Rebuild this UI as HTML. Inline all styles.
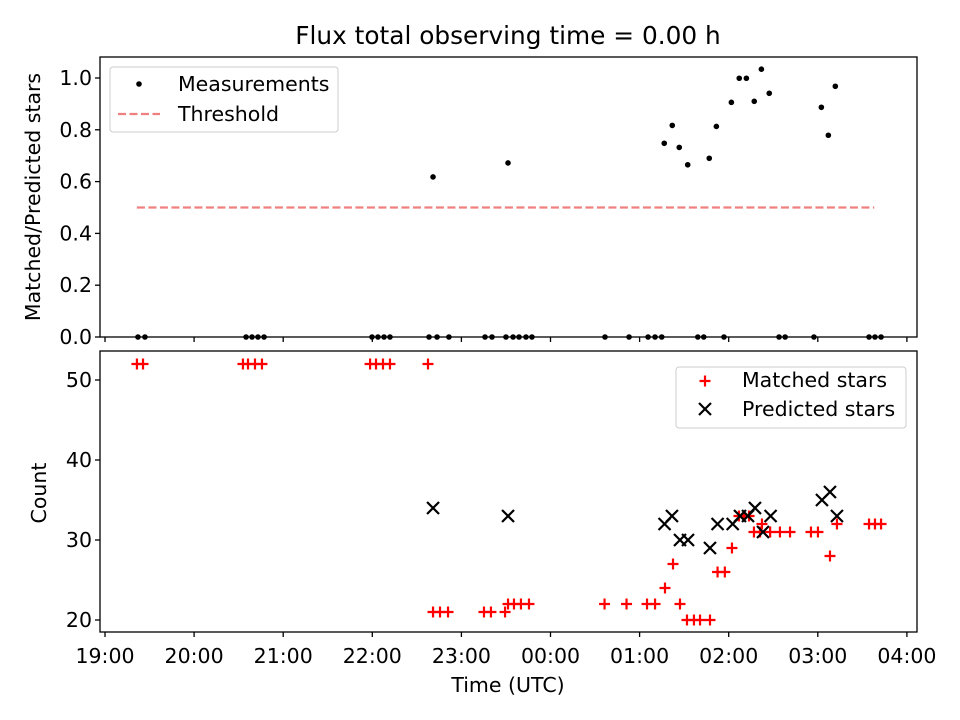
<!DOCTYPE html>
<html><head><meta charset="utf-8"><style>body{margin:0;background:#fff}svg{display:block;font-family:"DejaVu Sans","Liberation Sans",sans-serif}</style></head>
<body>
<svg id="chart" width="960" height="720"></svg>
<script>
// times are minutes since 19:00 UTC
const ratioTimes=[22.2,26.9,95,99,103,107.1,179.8,183.8,187.9,191.9,218.2,223.6,231.6,255.9,260.6,270,274.8,278.8,283.5,287.5,336.7,352.9,365.7,370.4,374.9,399.2,403.2,416.8,453.9,458,477.4,514.5,518.5,522.6,
 220.9,271.4,376.6,382.0,386.7,392.4,406.9,411.7,421.8,427.1,431.9,437.2,442.0,447.3,482.4,487.1,491.8];
const ratioValues=[0,0,0,0,0,0,0,0,0,0,0,0,0,0,0,0,0,0,0,0,0,0,0,0,0,0,0,0,0,0,0,0,0,0,
 0.618,0.672,0.748,0.817,0.732,0.665,0.69,0.813,0.906,0.999,0.999,0.91,1.034,0.941,0.887,0.779,0.968];
const thresholdValue=0.5;
const thresholdRange=[21.5,518];
const matchedTimes=[21.5,25.6,92.9,96.3,101,105.7,178.5,182.5,187.2,191.9,217.5,220.9,225.6,231,255.2,259.9,269.4,271.4,275.4,280.1,285.5,
 336.4,351.2,365,370.4,377.1,382.5,387.2,391.9,396.6,400.7,407.4,412.5,417.4,422.2,426.9,430.3,433.7,442.4,437,441.1,447.9,454.5,461.3,475.4,480.1,488.2,492.9,514.5,518.5,522.6];
const matchedValues=[52,52,52,52,52,52,52,52,52,52,52,21,21,21,21,21,21,22,22,22,22,
 22,22,22,22,24,27,22,20,20,20,20,26,26,29,33,33,33,32,31,31,31,31,31,31,31,28,32,32,32,32];
const predictedTimes=[220.9,271.4,376.8,381.8,387.2,392.6,407.4,412.5,422.7,427.6,433,437.7,443.1,448.2,482.8,488.2,492.9];
const predictedValues=[34,33,32,33,30,30,29,32,32,33,33,34,31,33,35,36,33];
const xTickLabels=["19:00","20:00","21:00","22:00","23:00","00:00","01:00","02:00","03:00","04:00"];
const topTicks=[0,0.2,0.4,0.6,0.8,1.0];
const bottomTicks=[20,30,40,50];

const NS="http://www.w3.org/2000/svg";
const svg=document.getElementById('chart');
function mk(tag,attrs,parent,text){const e=document.createElementNS(NS,tag);for(const k in attrs)e.setAttribute(k,attrs[k]);if(text!==undefined)e.textContent=text;(parent||svg).appendChild(e);return e;}
const L=100,R=917;
const FS='20.5';
const xS=m=>105+m*(89.1/60);
const yTop=v=>337-v*259;
const yBot=v=>620-(v-20)*8;

let t=mk('text',{x:508,y:44,'text-anchor':'middle','font-size':'24.8'},svg,'Flux total observing time = 0.00 h');



let th=mk('line',{x1:xS(thresholdRange[0]),x2:xS(thresholdRange[1]),y1:yTop(thresholdValue),y2:yTop(thresholdValue),stroke:'#f08080','stroke-width':2.2,'stroke-dasharray':'8,3.5'});



ratioTimes.forEach((m,i)=>{const c=mk('circle',{cx:xS(m),cy:yTop(ratioValues[i]),r:2.8,fill:'#000'});

});

matchedTimes.forEach((m,i)=>{const x=xS(m),y=yBot(matchedValues[i]);const g=mk('path',{d:`M${x-5.5},${y}H${x+5.5}M${x},${y-5.5}V${y+5.5}`,stroke:'#f00','stroke-width':2.2});

});
predictedTimes.forEach((m,i)=>{const x=xS(m),y=yBot(predictedValues[i]);const g=mk('path',{d:`M${x-6},${y-6}L${x+6},${y+6}M${x-6},${y+6}L${x+6},${y-6}`,stroke:'#000','stroke-width':2.2});

});

let f1=mk('rect',{x:L,y:57,width:R-L,height:280,fill:'none',stroke:'#000','stroke-width':1.3});


let f2=mk('rect',{x:L,y:351,width:R-L,height:281,fill:'none',stroke:'#000','stroke-width':1.3});



xTickLabels.forEach((lab,i)=>{const x=xS(i*60);
 mk('line',{x1:x,x2:x,y1:337,y2:342,stroke:'#000','stroke-width':1.3});
 mk('line',{x1:x,x2:x,y1:632,y2:637,stroke:'#000','stroke-width':1.3});
 const tx=mk('text',{x:x,y:663,'text-anchor':'middle','font-size':FS},svg,lab);
 
 });
topTicks.forEach(v=>{const y=yTop(v);mk('line',{x1:L-5,x2:L,y1:y,y2:y,stroke:'#000','stroke-width':1.3});
 const tx=mk('text',{x:L-8,y:y+7,'text-anchor':'end','font-size':FS},svg,v.toFixed(1));
 
 });
bottomTicks.forEach(v=>{const y=yBot(v);mk('line',{x1:L-5,x2:L,y1:y,y2:y,stroke:'#000','stroke-width':1.3});
 const tx=mk('text',{x:L-8,y:y+7,'text-anchor':'end','font-size':FS},svg,String(v));
 
 });

let a=mk('text',{x:508,y:692,'text-anchor':'middle','font-size':FS},svg,'Time (UTC)');


a=mk('text',{x:0,y:0,'text-anchor':'middle','font-size':FS,transform:'translate(40,197) rotate(-90)'},svg,'Matched/Predicted stars');


a=mk('text',{x:0,y:0,'text-anchor':'middle','font-size':FS,transform:'translate(46,493) rotate(-90)'},svg,'Count');



let lg=mk('g',{});


mk('rect',{x:110,y:67,width:228,height:65,rx:3,fill:'#fff','fill-opacity':0.8,stroke:'#ccc'},lg);
mk('circle',{cx:139,cy:84,r:2.8,fill:'#000'},lg);
mk('text',{x:178,y:91,'font-size':FS},lg,'Measurements');
mk('line',{x1:118,x2:160,y1:114,y2:114,stroke:'#f08080','stroke-width':2.2,'stroke-dasharray':'8,3.5'},lg);
mk('text',{x:178,y:121,'font-size':FS},lg,'Threshold');

lg=mk('g',{});


mk('rect',{x:676,y:367,width:230,height:61,rx:3,fill:'#fff','fill-opacity':0.8,stroke:'#ccc'},lg);
mk('path',{d:'M699.5,381H710.5M705,375.5V386.5',stroke:'#f00','stroke-width':2.2},lg);
mk('text',{x:742,y:387,'font-size':FS},lg,'Matched stars');
mk('path',{d:'M699,403L711,415M699,415L711,403',stroke:'#000','stroke-width':2.2},lg);
mk('text',{x:742,y:416,'font-size':FS},lg,'Predicted stars');
</script>
</body></html>
